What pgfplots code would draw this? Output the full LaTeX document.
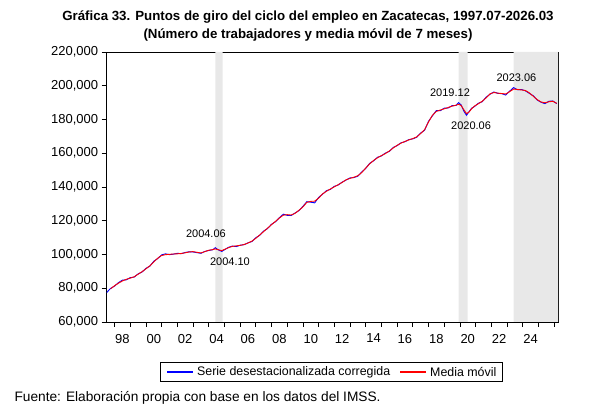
\documentclass[border=0pt]{standalone}
\usepackage{fontspec}
\setmainfont{Liberation Sans}
\usepackage{pgfplots}
\pgfplotsset{compat=1.18}
\usepackage{pgfplotstable}

\definecolor{shade}{RGB}{232,232,232}
\definecolor{serieblue}{RGB}{0,0,255}
\definecolor{mediared}{RGB}{255,0,0}

% Empleo en Zacatecas: serie desestacionalizada y media movil de 7 meses
\pgfplotstableread{
year serie media
1997.50 77500 nan
1997.75 79900 79700
1998.00 81300 81500
1998.25 83300 83000
1998.50 84800 84300
1998.75 85000 85300
1999.00 86300 86000
1999.25 86600 86800
1999.50 88500 88300
1999.75 89600 89800
2000.00 91800 91500
2000.25 93100 93300
2000.50 96000 95600
2000.75 97600 97800
2001.00 99800 99400
2001.25 100400 99900
2001.50 99900 100100
2001.75 100200 100300
2002.00 100700 100400
2002.25 100500 100600
2002.50 101200 101000
2002.75 101600 101500
2003.00 101500 101700
2003.25 101100 101300
2003.50 100700 100900
2003.75 101800 101700
2004.00 102400 102500
2004.25 102800 102900
2004.42 104000 103300
2004.58 102900 102900
2004.83 101800 102300
2005.00 102800 103000
2005.25 104200 104000
2005.50 105000 104800
2005.75 104700 105100
2006.00 105500 105400
2006.25 105800 105900
2006.50 106900 106800
2006.75 107700 107900
2007.00 109900 109600
2007.25 111400 111600
2007.50 113900 113600
2007.75 115400 115600
2008.00 117900 117700
2008.25 119400 119600
2008.50 121800 121600
2008.75 123900 123300
2009.00 123200 123600
2009.25 123100 123400
2009.50 124600 124400
2009.75 126000 126200
2010.00 128500 128200
2010.25 131300 130900
2010.50 131000 131500
2010.75 130600 131600
2011.00 133800 133400
2011.25 135700 135900
2011.50 137800 137500
2011.75 138600 138800
2012.00 140400 140100
2012.25 141200 141400
2012.50 142900 142700
2012.75 144100 144300
2013.00 145400 145100
2013.25 145600 145800
2013.50 146400 146700
2013.75 148900 148600
2014.00 151000 151200
2014.25 154000 153700
2014.50 155500 155700
2014.75 157600 157300
2015.00 158400 158600
2015.25 160100 159800
2015.50 161100 161300
2015.75 163400 163100
2016.00 164500 164700
2016.25 166200 166000
2016.50 166800 167000
2016.75 168100 167900
2017.00 168500 168700
2017.25 169500 169700
2017.50 172000 171700
2017.75 173600 174000
2018.00 178900 178500
2018.25 182200 182500
2018.50 185300 184800
2018.75 185200 185600
2019.00 186700 186300
2019.25 186800 187100
2019.50 188200 187900
2019.75 188300 188500
2019.92 190000 189000
2020.08 188600 188300
2020.25 185000 185800
2020.42 182500 183500
2020.58 184600 184400
2020.75 186700 186400
2020.92 187600 187900
2021.17 189600 189300
2021.42 190500 190800
2021.67 193200 192800
2021.92 195000 195200
2022.17 196300 196000
2022.42 195500 195600
2022.67 195300 195400
2022.92 194500 195100
2023.17 196800 196500
2023.42 198900 198000
2023.67 197600 197800
2023.92 197800 197500
2024.17 197000 197200
2024.42 195500 195800
2024.67 194100 193800
2024.92 191600 191800
2025.17 190200 190400
2025.42 189400 189900
2025.67 190800 190500
2025.92 191000 190800
2026.17 189400 189600
}\empleo

\begin{document}
\begin{tikzpicture}
% lienzo completo
\path (0pt,0pt) rectangle (600pt,420pt);
\node[font=\bfseries\fontsize{13.3}{18}\selectfont, align=center] at (308pt,394pt)
  {Gráfica 33. Puntos de giro del ciclo del empleo en Zacatecas, 1997.07-2026.03\\
   (Número de trabajadores y media móvil de 7 meses)};
\node[anchor=west, font=\fontsize{13.7}{15}\selectfont] at (11pt,22pt)
  {Fuente: Elaboración propia con base en los datos del IMSS.};
% leyenda: marco, muestras de linea y textos
\draw[black, line width=0.7pt] (160.5pt,38.5pt) rectangle (502.5pt,57.5pt);
\draw[serieblue, line width=1.3pt] (167pt,48pt) -- (193pt,48pt);
\node[anchor=west, inner sep=0pt, font=\fontsize{12.4}{14}\selectfont] at (197pt,47.6pt)
  {Serie desestacionalizada corregida};
\draw[mediared, line width=1.3pt] (400pt,48pt) -- (426pt,48pt);
\node[anchor=west, inner sep=0pt, font=\fontsize{12.4}{14}\selectfont] at (430pt,47.6pt)
  {Media móvil};
\begin{axis}[
  at={(106.7pt,98pt)}, anchor=south west,
  scale only axis, width=451.3pt, height=270pt,
  xmin=1997.5, xmax=2026.25,
  ymin=60000, ymax=220000,
  ytick={60000,80000,...,220000},
  xtick={1998,...,2026},
  xticklabels={},
  extra x ticks={1998.5,2000.5,...,2024.5},
  extra x tick labels={98,00,02,04,06,08,10,12,14,16,18,20,22,24},
  extra x tick style={major tick length=0pt,
    xticklabel style={yshift=-8.5pt}},
  tick align=outside, major tick length=5pt,
  xtick pos=bottom, ytick pos=left,
  axis line style={black, line width=0.9pt},
  tick style={black, line width=0.7pt},
  scaled y ticks=false,
  yticklabel style={/pgf/number format/.cd, fixed, 1000 sep={,}},
  /pgf/number format/assume math mode=true,
  ticklabel style={font=\fontsize{13}{15}\selectfont},
  unbounded coords=jump,
  clip=true,
]
% periodos de contraccion
\addplot[fill=shade, draw=none] coordinates
  {(2004.42,60000) (2004.42,220000) (2004.88,220000) (2004.88,60000)} \closedcycle;
\addplot[fill=shade, draw=none] coordinates
  {(2019.92,60000) (2019.92,220000) (2020.50,220000) (2020.50,60000)} \closedcycle;
\addplot[fill=shade, draw=none] coordinates
  {(2023.42,60000) (2023.42,220000) (2026.25,220000) (2026.25,60000)} \closedcycle;

\addplot[color=serieblue, line width=0.9pt] table[x=year, y=serie] {\empleo};
\addplot[color=mediared, line width=0.9pt] table[x=year, y=media] {\empleo};

\node[font=\fontsize{11}{12}\selectfont] at (axis cs:2003.82,112150) {2004.06};
\node[font=\fontsize{11}{12}\selectfont] at (axis cs:2005.35,95560) {2004.10};
\node[font=\fontsize{11}{12}\selectfont] at (axis cs:2019.37,195700) {2019.12};
\node[font=\fontsize{11}{12}\selectfont] at (axis cs:2020.71,176150) {2020.06};
\node[font=\fontsize{11}{12}\selectfont] at (axis cs:2023.60,204600) {2023.06};
\end{axis}
\end{tikzpicture}
\end{document}
